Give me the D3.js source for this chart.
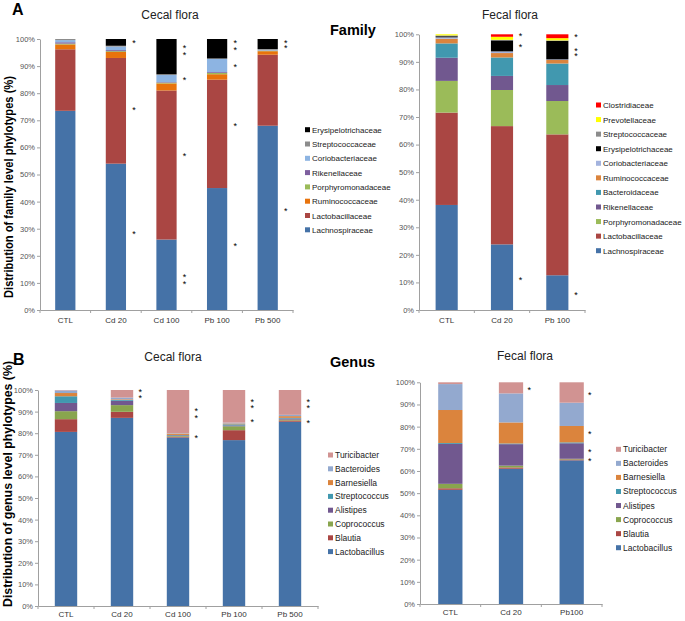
<!DOCTYPE html>
<html>
<head>
<meta charset="utf-8">
<script src="https://cdn.jsdelivr.net/npm/d3@7"></script>
<style>
body { margin: 0; background: #fff; }
svg { display: block; font-family: "Liberation Sans", Arial, Helvetica, sans-serif; }
</style>
</head>
<body>
<div id="chart"></div>
<script>
// ---- data (percent of phylotypes) ----

// A, cecal flora, family level
const cecalFamGroups = ["CTL", "Cd 20", "Cd 100", "Pb 100", "Pb 500"];
const cecalFamTaxa = ["Lachnospiraceae", "Lactobacillaceae", "Ruminococcaceae", "Porphyromonadaceae",
  "Rikenellaceae", "Coriobacteriaceae", "Streptococcaceae", "Erysipelotrichaceae"];
const cecalFamValues = [
  [73.5, 22.7, 1.8, 0.3, 0.5, 0.8, 0.4, 0.0],
  [54.0, 39.0, 2.2, 0.3, 0.4, 1.3, 0.3, 2.5],
  [26.0, 55.0, 2.6, 0.3, 0.2, 2.6, 0.3, 13.0],
  [45.0, 40.0, 2.0, 0.5, 0.3, 4.9, 0.1, 7.2],
  [68.0, 26.2, 1.3, 0.2, 0.1, 0.2, 0.3, 3.7]
];
const cecalFamStars = [
  ["Cd 20", 99.0], ["Cd 20", 74.4], ["Cd 20", 28.5],
  ["Cd 100", 97.2], ["Cd 100", 94.5], ["Cd 100", 85.5], ["Cd 100", 57.2], ["Cd 100", 12.7], ["Cd 100", 10.2],
  ["Pb 100", 99.2], ["Pb 100", 96.4], ["Pb 100", 90.3], ["Pb 100", 68.5], ["Pb 100", 24.0],
  ["Pb 500", 99.2], ["Pb 500", 97.3], ["Pb 500", 37.2]
];
const cecalFamColors = ["#4572a7", "#aa4643", "#e8730c", "#9bbb59", "#7e5f9f", "#8db4e2", "#8c8c8c", "#000000"];

// A, fecal flora, family level
const fecalFamGroups = ["CTL", "Cd 20", "Pb 100"];
const fecalFamTaxa = ["Lachnospiraceae", "Lactobacillaceae", "Porphyromonadaceae", "Rikenellaceae",
  "Bacteroidaceae", "Ruminococcaceae", "Coriobacteriaceae", "Erysipelotrichaceae",
  "Streptococcaceae", "Prevotellaceae", "Clostridiaceae"];
const fecalFamValues = [
  [38.1, 33.5, 11.5, 8.4, 5.2, 1.7, 0.5, 0.4, 0.3, 0.4, 0.0],
  [23.8, 42.9, 13.1, 5.1, 6.7, 1.6, 0.6, 4.0, 0.2, 1.1, 0.9],
  [12.6, 51.1, 12.1, 5.8, 7.8, 1.3, 0.2, 6.7, 0.2, 0.8, 1.4]
];
const fecalFamStars = [
  ["Cd 20", 99.9], ["Cd 20", 95.9], ["Cd 20", 11.5],
  ["Pb 100", 99.4], ["Pb 100", 94.6], ["Pb 100", 92.8], ["Pb 100", 6.1]
];
const fecalFamColors = ["#4572a7", "#aa4643", "#9bbb59", "#71588f", "#4198af", "#db843d",
  "#a3b3de", "#000000", "#8c8c8c", "#ffff00", "#ff0000"];

// B, genus level
const genusTaxa = ["Lactobacillus", "Blautia", "Coprococcus", "Alistipes",
  "Streptococcus", "Barnesiella", "Bacteroides", "Turicibacter"];
const genusColors = ["#4572a7", "#aa4643", "#89a54e", "#71588f", "#4198af", "#db843d", "#93a9cf", "#d19392"];

const cecalGenGroups = ["CTL", "Cd 20", "Cd 100", "Pb 100", "Pb 500"];
const cecalGenValues = [
  [80.6, 5.9, 3.7, 3.8, 3.1, 1.5, 1.2, 0.2],
  [87.1, 2.8, 3.1, 2.0, 0.4, 0.3, 0.8, 3.5],
  [78.0, 0.4, 0.3, 0.3, 0.2, 0.6, 0.2, 20.0],
  [76.8, 4.6, 1.8, 0.4, 0.5, 0.4, 0.4, 15.1],
  [85.3, 0.6, 0.4, 0.5, 0.3, 0.8, 0.6, 11.5]
];
const cecalGenStars = [
  ["Cd 20", 99.9], ["Cd 20", 96.8],
  ["Cd 100", 91.0], ["Cd 100", 87.8], ["Cd 100", 78.4],
  ["Pb 100", 95.2], ["Pb 100", 92.2], ["Pb 100", 86.0],
  ["Pb 500", 95.2], ["Pb 500", 92.2], ["Pb 500", 85.5]
];

const fecalGenGroups = ["CTL", "Cd 20", "Pb100"];
const fecalGenValues = [
  [51.5, 0.7, 2.0, 18.0, 0.4, 14.9, 11.7, 0.8],
  [61.0, 0.6, 0.8, 9.7, 0.3, 9.5, 13.1, 5.0],
  [64.8, 0.4, 0.3, 7.0, 0.4, 7.4, 10.5, 9.2]
];
const fecalGenStars = [
  ["Cd 20", 97.0],
  ["Pb100", 95.0], ["Pb100", 77.3], ["Pb100", 69.2], ["Pb100", 65.3]
];

const yTicks = d3.range(0, 101, 10);

// ---- drawing ----
const svg = d3.select('#chart')
  .append('svg')
  .attr('width', 685)
  .attr('height', 621);

function panel(o) {
  const g = svg.append('g');

  const x = d3.scaleBand()
    .domain(o.groups)
    .range(o.xr)
    .paddingInner(0.6)
    .paddingOuter(0.3);
  const y = d3.scaleLinear()
    .domain([0, 100])
    .range(o.yr);

  // table for d3.stack
  const rows = o.groups.map((grp, i) => {
    const r = { group: grp };
    o.taxa.forEach((t, j) => r[t] = o.values[i][j]);
    return r;
  });
  const series = d3.stack().keys(o.taxa)(rows);
  const color = d3.scaleOrdinal().domain(o.taxa).range(o.colors);

  g.append('g')
    .selectAll('g')
    .data(series)
    .join('g')
    .attr('fill', d => color(d.key))
    .selectAll('rect')
    .data(d => d)
    .join('rect')
    .attr('x', d => x(d.data.group))
    .attr('y', d => y(d[1]))
    .attr('width', x.bandwidth())
    .attr('height', d => y(d[0]) - y(d[1]));

  // y axis
  const ya = g.append('g')
    .attr('transform', `translate(${o.xr[0]},0)`)
    .call(d3.axisLeft(y).tickValues(yTicks).tickFormat(d => d + '%').tickSize(3).tickSizeOuter(0));
  ya.select('.domain').attr('stroke', '#a0a0a0');
  ya.selectAll('.tick line').attr('stroke', '#a0a0a0');
  ya.selectAll('.tick text').attr('fill', '#555').style('font-size', '7.5px').attr('x', -5);

  // x axis, Excel style ticks between categories
  const xa = g.append('g')
    .attr('transform', `translate(0,${o.yr[0]})`)
    .call(d3.axisBottom(x).tickSize(0).tickSizeOuter(0));
  xa.select('.domain').attr('stroke', '#a0a0a0');
  xa.selectAll('.tick text').attr('fill', '#333').style('font-size', '8px').attr('dy', o.labelDy);
  g.append('g')
    .selectAll('line')
    .data(d3.range(o.groups.length + 1))
    .join('line')
    .attr('x1', i => o.xr[0] + i * x.step())
    .attr('x2', i => o.xr[0] + i * x.step())
    .attr('y1', o.yr[0])
    .attr('y2', o.yr[0] + 3)
    .attr('stroke', '#a0a0a0');

  // significance stars
  g.append('g')
    .selectAll('text')
    .data(o.stars)
    .join('text')
    .attr('x', d => x(d[0]) + x.bandwidth() + o.starDx)
    .attr('y', d => y(d[1]) + 4.5)
    .attr('text-anchor', 'middle')
    .style('font-size', '9px')
    .text('*');

  // legend, top entry is the top of the stack
  const leg = g.append('g')
    .selectAll('g')
    .data(o.taxa.slice().reverse())
    .join('g')
    .attr('transform', (d, i) => `translate(${o.legend[0]},${o.legend[1] + i * o.legend[2]})`);
  leg.append('rect')
    .attr('x', 0).attr('y', -2.5)
    .attr('width', 5).attr('height', 5)
    .attr('fill', d => color(d));
  leg.append('text')
    .attr('x', 7)
    .attr('y', 3)
    .style('font-size', o.legendFont)
    .attr('fill', '#222')
    .text(d => d);

  // title
  g.append('text')
    .attr('x', o.title[0])
    .attr('y', o.title[1])
    .attr('text-anchor', 'middle')
    .style('font-size', '12px')
    .attr('fill', '#222')
    .text(o.title[2]);
}

panel({
  groups: cecalFamGroups, taxa: cecalFamTaxa, values: cecalFamValues, colors: cecalFamColors,
  stars: cecalFamStars, xr: [40, 293], yr: [310, 39], starDx: 8, labelDy: '1.2em',
  legend: [305, 129.7, 14.3], legendFont: '8px', title: [170, 19, 'Cecal flora']
});
panel({
  groups: fecalFamGroups, taxa: fecalFamTaxa, values: fecalFamValues, colors: fecalFamColors,
  stars: fecalFamStars, xr: [419, 585], yr: [310, 34.3], starDx: 7.5, labelDy: '1.2em',
  legend: [596, 105, 14.57], legendFont: '8px', title: [510, 19, 'Fecal flora']
});
panel({
  groups: cecalGenGroups, taxa: genusTaxa, values: cecalGenValues, colors: genusColors,
  stars: cecalGenStars, xr: [38, 318], yr: [606, 390], starDx: 7, labelDy: '0.95em',
  legend: [328, 455, 13.8], legendFont: '8.5px', title: [173, 361, 'Cecal flora']
});
panel({
  groups: fecalGenGroups, taxa: genusTaxa, values: fecalGenValues, colors: genusColors,
  stars: fecalGenStars, xr: [420, 602], yr: [604, 382.3], starDx: 6, labelDy: '0.95em',
  legend: [616, 449.3, 14.06], legendFont: '8.5px', title: [525, 360, 'Fecal flora']
});

// panel letters, section headings, y labels
svg.append('text').attr('x', 12).attr('y', 15).style('font-size', '16px').style('font-weight', 'bold').text('A');
svg.append('text').attr('x', 13).attr('y', 365).style('font-size', '16px').style('font-weight', 'bold').text('B');
svg.append('text').attr('x', 330).attr('y', 35).style('font-size', '14.5px').style('font-weight', 'bold').text('Family');
svg.append('text').attr('x', 330).attr('y', 367).style('font-size', '14.5px').style('font-weight', 'bold').text('Genus');

svg.append('text')
  .attr('transform', 'translate(13,187) rotate(-90)')
  .attr('text-anchor', 'middle')
  .style('font-size', '12px')
  .style('font-weight', 'bold')
  .attr('textLength', 222)
  .attr('lengthAdjust', 'spacingAndGlyphs')
  .text('Distribution of family level phylotypes (%)');
svg.append('text')
  .attr('transform', 'translate(12,484) rotate(-90)')
  .attr('text-anchor', 'middle')
  .style('font-size', '13px')
  .style('font-weight', 'bold')
  .attr('textLength', 246)
  .attr('lengthAdjust', 'spacingAndGlyphs')
  .text('Distribution of genus level phylotypes (%)');
</script>
</body>
</html>
